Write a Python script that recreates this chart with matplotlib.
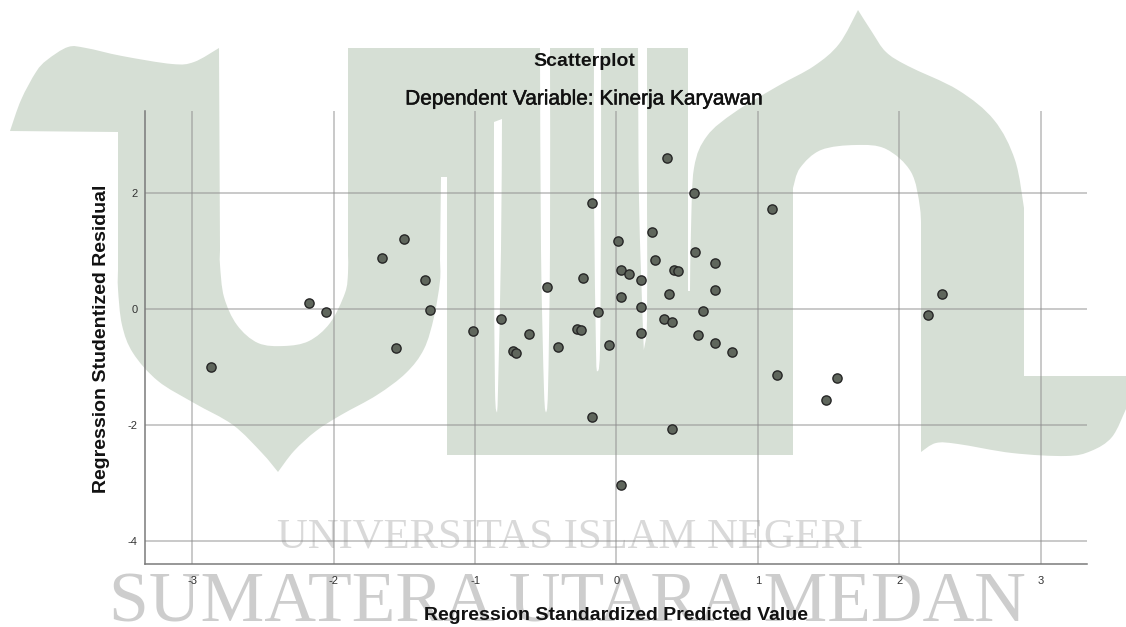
import numpy as np
import matplotlib
matplotlib.use("Agg")
import matplotlib.pyplot as plt
import matplotlib.patheffects as pe
from matplotlib.path import Path
from matplotlib.patches import PathPatch

plt.rcParams['font.family'] = ['Liberation Sans', 'DejaVu Sans']
plt.rcParams['axes.unicode_minus'] = False

W, H = 1126, 627

# ---- data ----
pred_std = [-2.864, -2.176, -2.057, -1.658, -1.503, -1.356, -1.318, -1.559, -1.016, -0.815,
            -0.734, -0.711, -0.620, -0.493, -0.411,
            0.356, 0.551, -0.170, 1.100, 0.254, 0.013, 0.556, 0.272, 0.696, 0.033,
            0.089, 0.173, 0.406, 0.434, -0.234, 0.696, 0.373, 0.033, 0.173, -0.132,
            0.612, 0.335, 0.394, -0.277, -0.249, 0.173, 0.574, -0.051, 0.696, 0.815,
            1.138, 1.559, 1.478, -0.170, 0.394, 0.033, 2.204, 2.303]
resid_stud = [-1.000, 0.103, -0.055, 0.876, 1.207, 0.497, -0.014, -0.669, -0.386, -0.166,
              -0.731, -0.752, -0.434, 0.372, -0.655,
              2.593, 1.986, 1.828, 1.724, 1.317, 1.166, 0.972, 0.834, 0.793, 0.669,
              0.600, 0.497, 0.676, 0.655, 0.531, 0.331, 0.255, 0.207, 0.034, -0.062,
              -0.034, -0.166, -0.228, -0.352, -0.372, -0.421, -0.448, -0.614, -0.593, -0.738,
              -1.138, -1.193, -1.572, -1.855, -2.076, -3.028, -0.110, 0.248]
x_ticks = [-3, -2, -1, 0, 1, 2, 3]
y_ticks = [-4, -2, 0, 2]
title_text = "Scatterplot"
subtitle_text = "Dependent Variable: Kinerja Karyawan"
x_label = "Regression Standardized Predicted Value"
y_label = "Regression Studentized Residual"
wm_line1 = "UNIVERSITAS ISLAM NEGERI"
wm_line2 = "SUMATERA UTARA MEDAN"

# ---- watermark outline, in image pixels; each sub-list is one smooth run ----
wm_runs = [
    [(10, 131), (21, 100), (36, 72), (47, 60), (68, 47), (86, 48), (122, 56), (172, 64), (194, 62), (219, 48)],
    [(219, 48), (220, 250)],
    [(220, 250), (220, 265), (224, 297), (237, 325), (258, 343), (284, 346), (309, 341), (330, 323), (345, 293), (348, 273), (348, 255)],
    [(348, 255), (348, 48)],
    [(348, 48), (540, 48)],
    [(540, 48), (541, 250), (544, 390), (546, 413)],
    [(546, 413), (548, 390), (550, 250), (550, 48)],
    [(550, 48), (594, 48)],
    [(594, 48), (594, 200), (596, 350), (597, 372)],
    [(597, 372), (600, 350), (601, 200), (601, 48)],
    [(601, 48), (638, 48)],
    [(638, 48), (639, 200), (643, 330), (644, 349)],
    [(644, 349), (647, 320), (647, 200), (647, 48)],
    [(647, 48), (688, 48)],
    [(688, 48), (688, 291)],
    [(688, 291), (690, 291)],
    [(690, 291), (691, 230), (694, 168), (707, 136), (735, 112), (778, 86), (814, 66), (839, 44), (858, 10)],
    [(858, 10), (872, 32), (886, 52), (908, 66), (958, 90), (994, 120), (1015, 160), (1024, 208)],
    [(1024, 208), (1024, 376)],
    [(1024, 376), (1126, 376)],
    [(1126, 376), (1126, 409)],
    [(1126, 409), (1112, 437), (1091, 451), (1066, 456), (1012, 453), (958, 444), (936, 443), (921, 452)],
    [(921, 452), (921, 240)],
    [(921, 240), (920, 208), (911, 172), (886, 149), (856, 145), (821, 150), (800, 168), (793, 188)],
    [(793, 188), (793, 455)],
    [(793, 455), (447, 455)],
    [(447, 455), (447, 177)],
    [(447, 177), (441, 177)],
    [(441, 177), (440, 260)],
    [(440, 260), (440, 281), (434, 317), (424, 349), (406, 373), (377, 395), (341, 415), (316, 431), (294, 451), (278, 472)],
    [(278, 472), (262, 453), (233, 425), (194, 403), (158, 381), (133, 353), (122, 325), (118, 289), (118, 270)],
    [(118, 270), (118, 132)],
    [(118, 132), (10, 131)],
]
wm_slit = [
    [(494, 122), (502, 119)],
    [(502, 119), (501, 250), (498, 390), (497, 413)],
    [(497, 413), (495, 390), (494, 250), (494, 122)],
]


def runs_to_path(runs):
    verts, codes = [tuple(runs[0][0])], [Path.MOVETO]
    for run in runs:
        p = np.asarray(run, float)
        for i in range(len(p) - 1):
            p0 = p[i - 1] if i > 0 else p[i]
            p3 = p[i + 2] if i + 2 < len(p) else p[i + 1]
            c1 = p[i] + (p[i + 1] - p0) / 6
            c2 = p[i + 1] - (p3 - p[i]) / 6
            verts += [tuple(c1), tuple(c2), tuple(p[i + 1])]
            codes += [Path.CURVE4] * 3
    verts.append(verts[0])
    codes.append(Path.CLOSEPOLY)
    return Path(verts, codes)


fig = plt.figure(figsize=(W / 100, H / 100), dpi=100, facecolor='white')

# background layer in pixel coordinates
bg = fig.add_axes([0, 0, 1, 1], zorder=0)
bg.set_xlim(0, W)
bg.set_ylim(H, 0)
bg.axis('off')
bg.add_patch(PathPatch(runs_to_path(wm_runs), fc='#D6DFD5', ec='none'))
bg.add_patch(PathPatch(runs_to_path(wm_slit), fc='white', ec='none'))
serif = ['Liberation Serif', 'DejaVu Serif']
bg.text(570.5, 548, wm_line1, family=serif, fontsize=30.7, color='#D9D9D9',
        ha='center', va='baseline')
bg.text(567.5, 621, wm_line2, family=serif, fontsize=51.6, color='#CDCDCD',
        ha='center', va='baseline')

# main chart
left, right, top, bottom = 145, 1087, 111.4, 564.4
ax = fig.add_axes([left / W, 1 - bottom / H, (right - left) / W, (bottom - top) / H], zorder=1)
ax.patch.set_visible(False)
ax.set_xlim(-3.334, 3.327)
ax.set_ylim(-4.398, 3.399)
for s in ('top', 'right'):
    ax.spines[s].set_visible(False)
for s in ('left', 'bottom'):
    ax.spines[s].set_color('#7A7A7A')
    ax.spines[s].set_linewidth(1.1)
ax.set_xticks(x_ticks)
ax.set_yticks(y_ticks)
ax.tick_params(axis='x', length=0, labelsize=8, labelcolor='#333333', pad=8)
ax.tick_params(axis='y', length=0, labelsize=8, labelcolor='#333333', pad=5.5)
ax.grid(True, color='#8C8C8C', alpha=0.55, linewidth=1.2)
ax.set_axisbelow(True)
ax.scatter(pred_std, resid_stud, s=44, facecolor='#5F665C', edgecolor='#262626',
           linewidth=1.0, zorder=3, clip_on=False)

ax.set_xlabel(x_label, fontsize=14, fontweight='bold', color='#111111')
ax.xaxis.set_label_coords((616 - left) / (right - left), (bottom - 616) / (bottom - top))
ax.xaxis.label.set_va('center')
ax.set_ylabel(y_label, fontsize=14, fontweight='bold', color='#111111')
ax.yaxis.set_label_coords((102 - left) / (right - left), (bottom - 339) / (bottom - top))
ax.yaxis.label.set_va('center')

fig.text(584 / W, 1 - 62 / H, title_text, fontsize=14, fontweight='bold', color='#111111',
         ha='center', va='center', zorder=5)
fig.text(584.5 / W, 1 - 99 / H, subtitle_text, fontsize=15, color='#111111',
         ha='center', va='center', zorder=5,
         path_effects=[pe.withStroke(linewidth=0.35, foreground='#111111')])

fig.savefig('out.png', dpi=100)
